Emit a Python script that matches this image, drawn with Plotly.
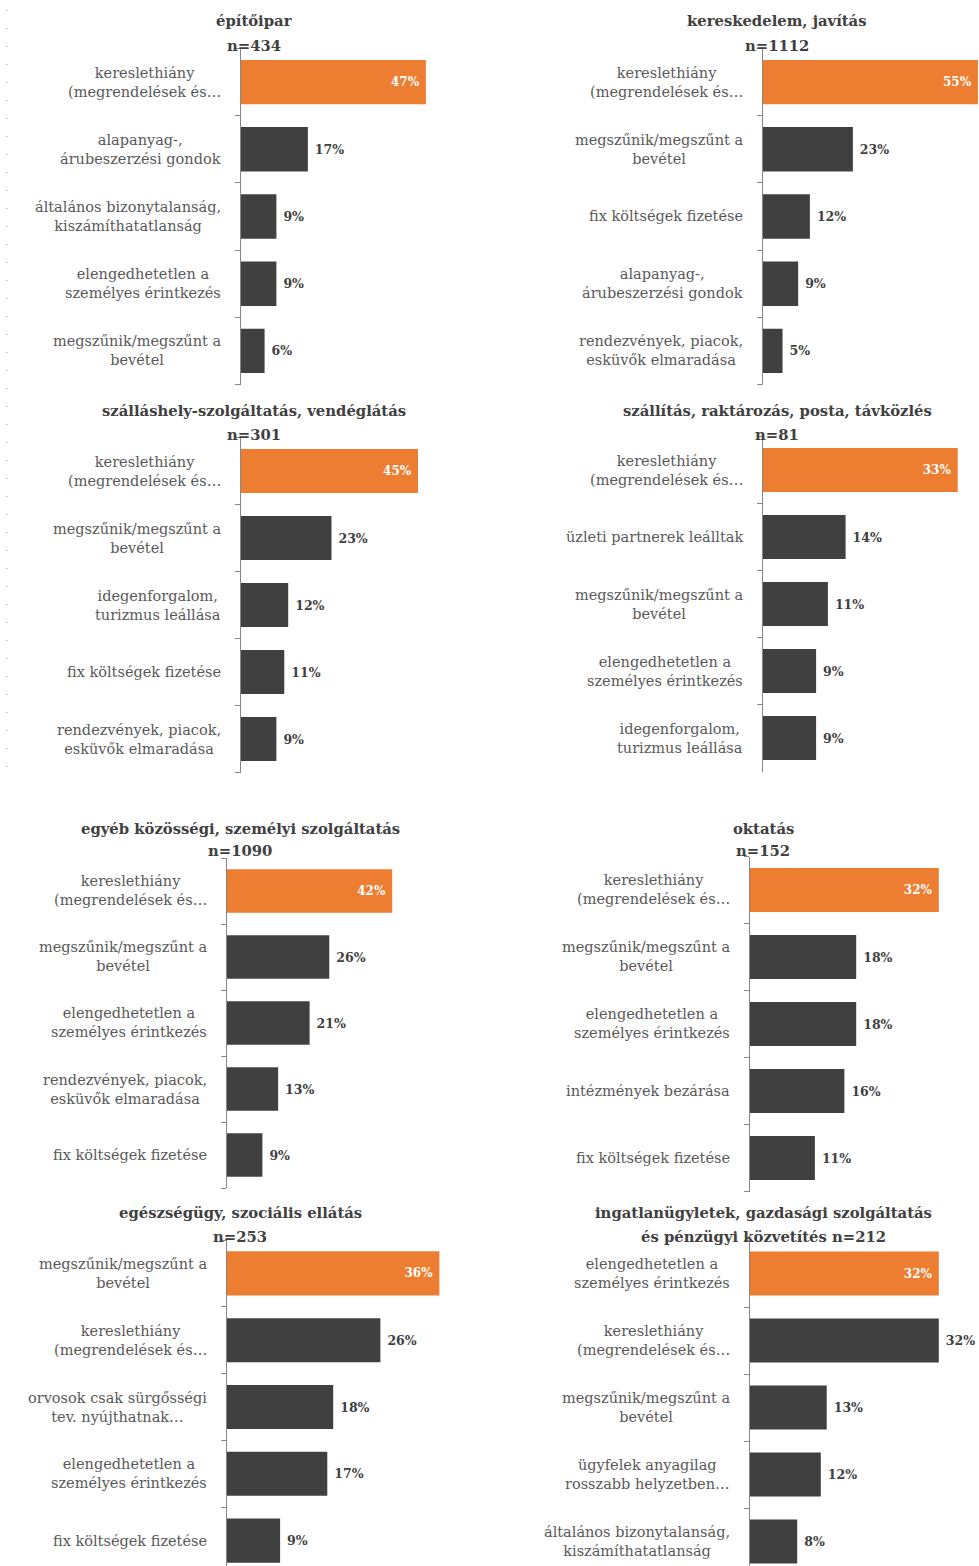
import plotly.graph_objects as go

W, H = 979, 1566
ORANGE = "#ED7D31"
DARK = "#404040"
LABEL = "#595959"
FONT = "DejaVu Serif"

# ---------------- data ----------------
p1_title = ["építőipar", "n=434"]
p1_labels = ["kereslethiány<br>(megrendelések és…", "alapanyag-,<br>árubeszerzési gondok",
             "általános bizonytalanság,<br>kiszámíthatatlanság", "elengedhetetlen a<br>személyes érintkezés",
             "megszűnik/megszűnt a<br>bevétel"]
p1_values = [47, 17, 9, 9, 6]

p2_title = ["kereskedelem, javítás", "n=1112"]
p2_labels = ["kereslethiány<br>(megrendelések és…", "megszűnik/megszűnt a<br>bevétel",
             "fix költségek fizetése", "alapanyag-,<br>árubeszerzési gondok",
             "rendezvények, piacok,<br>esküvők elmaradása"]
p2_values = [55, 23, 12, 9, 5]

p3_title = ["szálláshely-szolgáltatás, vendéglátás", "n=301"]
p3_labels = ["kereslethiány<br>(megrendelések és…", "megszűnik/megszűnt a<br>bevétel",
             "idegenforgalom,<br>turizmus leállása", "fix költségek fizetése",
             "rendezvények, piacok,<br>esküvők elmaradása"]
p3_values = [45, 23, 12, 11, 9]

p4_title = ["szállítás, raktározás, posta, távközlés", "n=81"]
p4_labels = ["kereslethiány<br>(megrendelések és…", "üzleti partnerek leálltak",
             "megszűnik/megszűnt a<br>bevétel", "elengedhetetlen a<br>személyes érintkezés",
             "idegenforgalom,<br>turizmus leállása"]
p4_values = [33, 14, 11, 9, 9]

p5_title = ["egyéb közösségi, személyi szolgáltatás", "n=1090"]
p5_labels = ["kereslethiány<br>(megrendelések és…", "megszűnik/megszűnt a<br>bevétel",
             "elengedhetetlen a<br>személyes érintkezés", "rendezvények, piacok,<br>esküvők elmaradása",
             "fix költségek fizetése"]
p5_values = [42, 26, 21, 13, 9]

p6_title = ["oktatás", "n=152"]
p6_labels = ["kereslethiány<br>(megrendelések és…", "megszűnik/megszűnt a<br>bevétel",
             "elengedhetetlen a<br>személyes érintkezés", "intézmények bezárása",
             "fix költségek fizetése"]
p6_values = [32, 18, 18, 16, 11]

p7_title = ["egészségügy, szociális ellátás", "n=253"]
p7_labels = ["megszűnik/megszűnt a<br>bevétel", "kereslethiány<br>(megrendelések és…",
             "orvosok csak sürgősségi<br>tev. nyújthatnak…", "elengedhetetlen a<br>személyes érintkezés",
             "fix költségek fizetése"]
p7_values = [36, 26, 18, 17, 9]

p8_title = ["ingatlanügyletek, gazdasági szolgáltatás", "és pénzügyi közvetítés n=212"]
p8_labels = ["elengedhetetlen a<br>személyes érintkezés", "kereslethiány<br>(megrendelések és…",
             "megszűnik/megszűnt a<br>bevétel", "ügyfelek anyagilag<br>rosszabb helyzetben…",
             "általános bizonytalanság,<br>kiszámíthatatlanság"]
p8_values = [32, 32, 13, 12, 8]

# ---------------- layout geometry (pixels) ----------------
PLOT_W = 236
panels = [
    dict(title=p1_title, cats=p1_labels, vals=p1_values, x0=241, full=60, top=48.5, row=67.2, tx=254, ty=(20, 45)),
    dict(title=p2_title, cats=p2_labels, vals=p2_values, x0=763, full=60, top=48.5, row=67.2, tx=777, ty=(20, 45)),
    dict(title=p3_title, cats=p3_labels, vals=p3_values, x0=241, full=60, top=437.5, row=67.0, tx=254, ty=(410, 434)),
    dict(title=p4_title, cats=p4_labels, vals=p4_values, x0=763, full=40, top=436.5, row=67.0, tx=777, ty=(410, 434)),
    dict(title=p5_title, cats=p5_labels, vals=p5_values, x0=227, full=60, top=858, row=66.0, tx=240, ty=(828, 851)),
    dict(title=p6_title, cats=p6_labels, vals=p6_values, x0=750, full=40, top=856.5, row=67.0, tx=763, ty=(828, 851)),
    dict(title=p7_title, cats=p7_labels, vals=p7_values, x0=227, full=40, top=1240, row=66.8, tx=240, ty=(1212, 1236)),
    dict(title=p8_title, cats=p8_labels, vals=p8_values, x0=750, full=40, top=1240, row=67.0, tx=763, ty=(1212, 1236)),
]

fig = go.Figure()
layout = dict(width=W, height=H, margin=dict(l=0, r=0, t=0, b=0),
              paper_bgcolor="white", plot_bgcolor="white", showlegend=False,
              font=dict(family=FONT, color=LABEL))
annotations = []

for i, p in enumerate(panels):
    n = i + 1
    sfx = "" if n == 1 else str(n)
    x1 = min(p["x0"] + PLOT_W, W)
    xmax = max((x1 - p["x0"]) / PLOT_W * p["full"], max(p["vals"]) * 1.005)
    bottom_full = p["top"] + 5 * p["row"]
    bottom = min(bottom_full, H)
    ybot = -0.5 + (bottom_full - bottom) / p["row"]

    k = len(p["vals"])
    colors = [ORANGE] + [DARK] * (k - 1)
    positions = ["inside"] + ["outside"] * (k - 1)
    templates = ["<b>%{text}</b>\u00a0"] + ["\u00a0<b>%{text}</b>"] * (k - 1)
    fig.add_trace(go.Bar(
        x=p["vals"], y=p["cats"], orientation="h",
        marker=dict(color=colors, line=dict(width=0)),
        width=0.66,
        text=[f"{v}%" for v in p["vals"]], textposition=positions,
        texttemplate=templates,
        insidetextanchor="end",
        insidetextfont=dict(family=FONT, size=12, color="white"),
        outsidetextfont=dict(family=FONT, size=12.5, color=DARK),
        cliponaxis=False, hoverinfo="skip",
        xaxis="x" + sfx, yaxis="y" + sfx,
    ))
    layout["xaxis" + sfx] = dict(domain=[p["x0"] / W, x1 / W], range=[0, xmax], visible=False,
                                 anchor="y" + sfx, fixedrange=True)
    layout["yaxis" + sfx] = dict(domain=[1 - bottom / H, 1 - p["top"] / H], type="category",
                                 categoryorder="array", categoryarray=list(reversed(p["cats"])),
                                 range=[ybot, 4.5], anchor="x" + sfx,
                                 showline=True, linecolor="#868686", linewidth=1,
                                 ticks="outside", tickson="boundaries", ticklen=5, tickcolor="#868686",
                                 showticklabels=False, showgrid=False, zeroline=False, fixedrange=True)
    for c in p["cats"]:
        annotations.append(dict(x=(p["x0"] - 18) / W, xref="paper", y=c, yref="y" + sfx,
                                text=c, showarrow=False, xanchor="right", yanchor="middle", align="center",
                                font=dict(family=FONT, size=14.5, color=LABEL)))
    for line, yy in zip(p["title"], p["ty"]):
        annotations.append(dict(x=p["tx"] / W, xref="paper", y=1 - yy / H, yref="paper",
                                text=f"<b>{line}</b>", showarrow=False, xanchor="center", yanchor="middle",
                                font=dict(family=FONT, size=14.8, color=DARK)))

layout["annotations"] = annotations
layout["shapes"] = [dict(type="line", xref="paper", yref="paper", x0=7 / W, x1=7 / W,
                         y0=1 - 10 / H, y1=1 - 772 / H,
                         line=dict(color="#9a9a9a", width=1, dash="1px,17px"))]
fig.update_layout(**layout)
fig.write_html("out.html", config={"displayModeBar": False},
               post_script="document.body.style.margin='0';document.body.style.overflow='hidden';")
